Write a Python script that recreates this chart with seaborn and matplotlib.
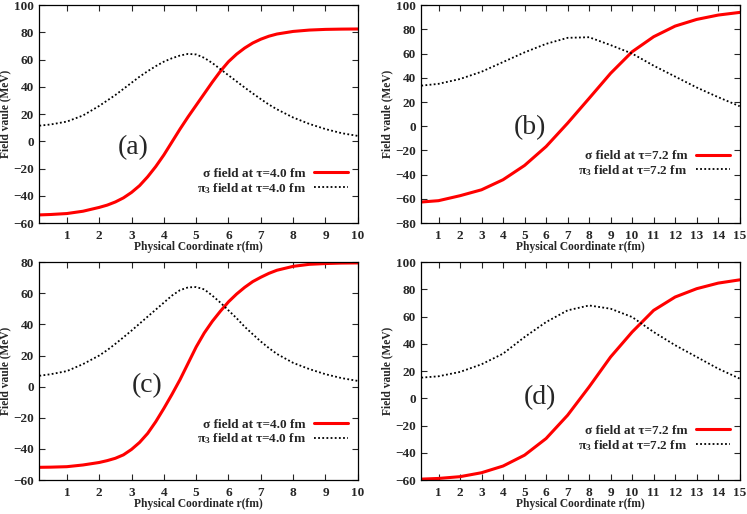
import matplotlib
matplotlib.use("Agg")
import matplotlib.pyplot as plt
import seaborn as sns

# tau = 4.0 fm panels (a) and (c)
r_short = [0.15, 0.5, 1, 1.5, 2, 2.25, 2.5, 2.75, 3, 3.25, 3.5, 3.75, 4, 4.25, 4.5, 4.75, 5,
           5.25, 5.5, 5.75, 6, 6.25, 6.5, 6.75, 7, 7.25, 7.5, 8, 8.5, 9, 9.5, 10]
sigma_a = [-54, -53.7, -53, -51.3, -48.5, -46.8, -44.5, -41.5, -37.5, -32.5, -26, -18.5, -10, -0.5, 9, 18, 26.5,
           35, 43.5, 51.5, 58.5, 64, 68.5, 72.2, 75, 77.2, 78.8, 80.7, 81.7, 82.2, 82.4, 82.5]
pi3_a = [11.5, 12.4, 14.5, 19, 26, 30, 34, 38.5, 43, 47.5, 51.5, 55.2, 58.5, 61, 63, 64.2, 63.8,
         61.3, 57.5, 53, 48.5, 44, 39.5, 35.2, 31, 27, 23.5, 17.5, 12.8, 9, 6, 4]
sigma_c = [-51.8, -51.7, -51.4, -50.3, -48.7, -47.5, -46, -43.8, -40.3, -35.8, -30, -22.5, -14, -5, 4.5, 15, 25.5,
           34.5, 42, 48.5, 54.5, 59.5, 63.8, 67.5, 70.3, 72.8, 74.8, 77.3, 78.6, 79.1, 79.4, 79.5]
pi3_c = [7, 8, 10, 14.5, 20, 23.5, 27.5, 31.7, 36, 40.5, 45, 49.5, 54, 58.5, 62, 63.8, 64,
         62.5, 58.5, 54, 49, 44, 38.5, 33.7, 29, 24.8, 21, 15.3, 11.3, 8, 5.5, 3.7]

# tau = 7.2 fm panels (b) and (d)
r_long = [0.2, 1, 2, 3, 4, 5, 6, 7, 8, 9, 10, 11, 12, 13, 14, 15]
sigma_b = [-62.6, -61.5, -57.4, -52.5, -44.2, -32.4, -16.8, 2.5, 23, 43.7, 61.5, 73.9, 82.7, 88.2, 91.8, 94]
pi3_b = [33.5, 35, 39, 45, 53, 61, 68, 73, 73.5, 67, 60, 50, 41, 32, 24, 16.5]
sigma_d = [-59.3, -58.8, -57.5, -54.6, -49.7, -41.7, -29.5, -12.4, 8.4, 30.4, 48.7, 64.6, 74.4, 80.5, 84.6, 87]
pi3_d = [15.2, 16.2, 19.4, 25, 32.8, 45, 56, 64.6, 68.2, 65.8, 59.7, 48.7, 39, 30.4, 21.8, 14.5]

sns.set_style("ticks")
plt.rcParams['font.family'] = ['Liberation Serif', 'DejaVu Serif']
plt.rcParams['font.weight'] = 'bold'
plt.rcParams['mathtext.fontset'] = 'custom'
plt.rcParams['mathtext.rm'] = 'Liberation Serif:bold'
plt.rcParams['mathtext.default'] = 'rm'

fig = plt.figure(figsize=(7.47, 5.14), dpi=100)

panels = [
    # letter, r, sigma, pi3, tau, ylim, xmax, axes rect, letter pos, legend y
    ("(a)", r_short, sigma_a, pi3_a, "4.0", (-60, 100), 10, [0.0527, 0.566, 0.4263, 0.424], (0.294, 0.344), 0.19),
    ("(b)", r_long, sigma_b, pi3_b, "7.2", (-80, 100), 15, [0.5640, 0.566, 0.4262, 0.424], (0.34, 0.44), 0.272),
    ("(c)", r_short, sigma_c, pi3_c, "4.0", (-60, 80), 10, [0.0527, 0.066, 0.4263, 0.424], (0.337, 0.434), 0.22),
    ("(d)", r_long, sigma_d, pi3_d, "7.2", (-60, 100), 15, [0.5640, 0.066, 0.4262, 0.424], (0.372, 0.38), 0.19),
]

for letter, r, sig, pi3, tau, ylim, xmax, rect, lpos, legy in panels:
    ax = fig.add_axes(rect)
    sns.lineplot(x=r, y=sig, ax=ax, color='#ff0000', lw=2.2,
                 label=f"σ field at τ={tau} fm")
    sns.lineplot(x=r, y=pi3, ax=ax, color='black', lw=1.3, linestyle=(0, (1, 1.3)),
                 label=f"π$_3$ field at τ={tau} fm")
    ax.set_xlim(r[0], xmax)
    ax.set_ylim(*ylim)
    ax.set_xticks(range(1, xmax + 1))
    ax.set_yticks(range(ylim[0], ylim[1] + 1, 20))
    ax.tick_params(direction='in', top=True, right=True, length=4, width=0.8,
                   labelsize=9.5)
    ax.tick_params(axis='x', pad=5)
    ax.tick_params(axis='y', pad=4)
    for s in ax.spines.values():
        s.set_linewidth(0.9)
        s.set_color('black')
    ax.set_xlabel("Physical Coordinate r(fm)", fontsize=8.3, fontweight='bold', labelpad=-1)
    ax.set_ylabel("Field vaule (MeV)", fontsize=8.3, fontweight='bold', labelpad=1)
    ax.text(lpos[0], lpos[1], letter, transform=ax.transAxes, fontsize=20,
            fontweight='normal', ha='center', va='center')
    ax.legend(loc='center right', bbox_to_anchor=(0.99, legy), frameon=False,
              markerfirst=False, handlelength=2.6, handletextpad=0.6,
              labelspacing=0.05, fontsize=9.5, borderpad=0)

fig.savefig("out.png", dpi=100)
